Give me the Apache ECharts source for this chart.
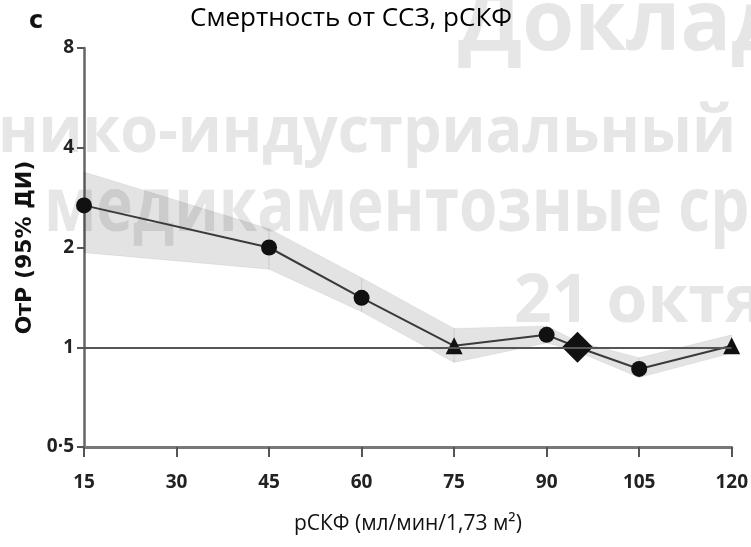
<!DOCTYPE html>
<html>
<head>
<meta charset="utf-8">
<script src="https://cdn.jsdelivr.net/npm/echarts@6/dist/echarts.min.js"></script>
<style>
  html, body { margin: 0; padding: 0; background: #fff; }
  #chart { width: 751px; height: 547px; }
</style>
</head>
<body>
<div id="chart"></div>
<script>
// рСКФ values and hazard ratios
const gfrX = [15, 45, 60, 75, 90, 95, 105, 120]
const hrValues = [2.68, 2.0, 1.41, 1.01, 1.09, 1.0, 0.86, 1.01]
const pointKind = ['est', 'est', 'est', 'tri', 'est', 'ref', 'est', 'tri'] // tri = triangle, ref = reference
const ciLow = [1.93, 1.72, 1.28, 0.90, 1.03, 0.97, 0.81, 0.96]
const ciHigh = [3.38, 2.28, 1.62, 1.14, 1.16, 1.04, 0.93, 1.09]
const yTicks = [0.5, 1, 2, 4, 8]

const labelFont = '"Open Sans", sans-serif'
const wmColor = '#e6e6e6'

const symbolFor = { est: 'circle', tri: 'triangle', ref: 'diamond' }
const sizeFor = { est: 16, tri: 17, ref: 31 }

const chart = echarts.init(document.getElementById('chart'))

// big grey watermark of the slide behind the plot
function wm(text, x, y, size, sx, sy) {
  return {
    type: 'text', z: -10, x: x, y: y, scaleX: sx, scaleY: sy,
    style: { text: text, font: 'bold ' + size + 'px "Open Sans"', fill: wmColor, verticalAlign: 'top' }
  }
}

const option = {
  backgroundColor: '#fff',
  animation: false,
  graphic: [
    wm('Доклад', 458, -16, 84, 1, 1),
    wm('нико-индустриальный', -2, 102, 64, 0.955, 1),
    wm('медикаментозные ср', 44, 172, 62, 1, 1.22),
    wm('21 октя', 514, 270, 66, 1, 1),
    { type: 'text', left: 29, top: 10, style: { text: 'с', font: 'bold 24px "DejaVu Sans"', fill: '#111' } },
    { type: 'text', left: 190, top: 6, style: { text: 'Смертность от ССЗ, рСКФ', font: '26px ' + labelFont, fill: '#000' } }
  ],
  grid: { left: 84, right: 14, top: 48, bottom: 100 },
  xAxis: {
    type: 'value',
    min: 15,
    max: 120,
    interval: 15,
    name: 'рСКФ (мл/мин/1,73 м²)',
    nameLocation: 'middle',
    nameGap: 67,
    nameTextStyle: { fontFamily: labelFont, fontSize: 21, color: '#111' },
    axisLine: { lineStyle: { color: '#777', width: 3 } },
    axisTick: { show: true, length: 10, lineStyle: { color: '#555', width: 2 } },
    axisLabel: { fontFamily: labelFont, fontWeight: 'bold', fontSize: 19, color: '#222', margin: 26 },
    splitLine: { show: false }
  },
  yAxis: {
    type: 'log',
    logBase: 2,
    min: yTicks[0],
    max: yTicks[yTicks.length - 1],
    name: 'ОтР (95% ДИ)',
    nameLocation: 'middle',
    nameRotate: 90,
    nameGap: 46,
    nameTextStyle: { fontFamily: '"DejaVu Sans"', fontWeight: 'bold', fontSize: 22, color: '#111' },
    axisLine: { show: true, lineStyle: { color: '#666', width: 2.5 } },
    axisTick: { show: true, length: 7, lineStyle: { color: '#555', width: 2 } },
    axisLabel: {
      fontFamily: labelFont, fontWeight: 'bold', fontSize: 19, color: '#222', margin: 10,
      formatter: v => (v === 0.5 ? '0·5' : String(v))
    },
    splitLine: { show: false }
  },
  series: [
    {
      // 95% CI band
      type: 'custom',
      z: 1,
      silent: true,
      data: gfrX.map((x, i) => [x, ciLow[i], ciHigh[i]]),
      renderItem: (params, api) => {
        const i = params.dataIndex
        if (i >= gfrX.length - 1) return null
        const pts = [
          api.coord([gfrX[i], ciHigh[i]]),
          api.coord([gfrX[i + 1], ciHigh[i + 1]]),
          api.coord([gfrX[i + 1], ciLow[i + 1]]),
          api.coord([gfrX[i], ciLow[i]])
        ]
        return {
          type: 'polygon',
          shape: { points: pts },
          style: { fill: 'rgba(0,0,0,0.11)', stroke: 'rgba(0,0,0,0.11)', lineWidth: 0.5 }
        }
      }
    },
    {
      type: 'line',
      z: 3,
      data: gfrX.map((x, i) => ({
        value: [x, hrValues[i]],
        symbol: symbolFor[pointKind[i]],
        symbolSize: sizeFor[pointKind[i]]
      })),
      lineStyle: { color: '#3a3a3a', width: 2 },
      itemStyle: { color: '#111' },
      markLine: {
        silent: true,
        symbol: 'none',
        label: { show: false },
        lineStyle: { color: '#555', width: 2, type: 'solid' },
        data: [{ yAxis: 1 }]
      }
    }
  ]
}

chart.setOption(option)
</script>
</body>
</html>
